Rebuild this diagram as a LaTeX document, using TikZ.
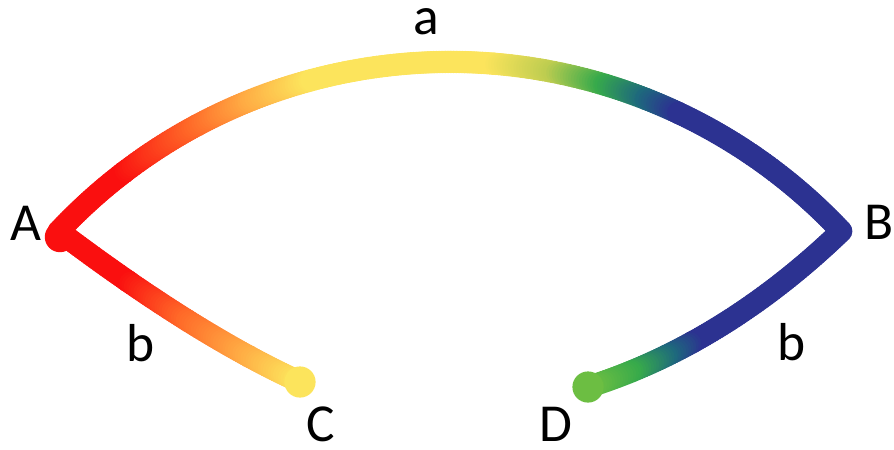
\documentclass[tikz,border=0pt]{standalone}
\usepackage{fontspec}
\setmainfont{Carlito}
\usetikzlibrary{decorations.markings}

\definecolor{cRed}{RGB}{250,15,15}
\definecolor{cOrange}{RGB}{255,105,40}
\definecolor{cLtOrange}{RGB}{255,172,68}
\definecolor{cYellow}{RGB}{252,228,92}
\definecolor{cYelGreen}{RGB}{190,205,80}
\definecolor{cGreen}{RGB}{55,170,75}
\definecolor{cTeal}{RGB}{30,105,125}
\definecolor{cNavy}{RGB}{44,50,145}
\definecolor{cLtGreen}{RGB}{108,190,66}

% one blob of the thick colour stroke, mixed between \ca and \cb
\newcommand\gradblob{%
  \pgfmathsetmacro\pct{max(0,min(100,100*((\pgfkeysvalueof{/pgf/decoration/mark info/distance from start})/(\pgfdecoratedpathlength)-\fa)/(\fb-\fa)))}%
  \fill[\cb!\pct!\ca] (0,0) circle (0.28cm);}

\tikzset{
  lbl/.style={inner sep=0pt, font=\fontsize{38}{40}\selectfont},
  grad/.style={decorate, decoration={markings,
      mark=between positions #1 step 2pt with {\gradblob}}}
}

\begin{document}
\begin{tikzpicture}[x=0.025cm, y=-0.025cm]
    \useasboundingbox (0,0) rectangle (894,449);
    % end points
    \coordinate (A) at (58.8,231.2);
    \coordinate (B) at (841.2,231.2);
    \coordinate (C) at (300,382);
    \coordinate (D) at (588,387);
    % upper arc a
    \foreach \fa/\fb/\ca/\cb in {0/0.1/cRed/cRed, 0.1/0.2/cRed/cOrange,
        0.2/0.27/cOrange/cLtOrange, 0.27/0.34/cLtOrange/cYellow,
        0.34/0.55/cYellow/cYellow, 0.55/0.62/cYellow/cYelGreen,
        0.62/0.68/cYelGreen/cGreen, 0.68/0.73/cGreen/cTeal,
        0.73/0.77/cTeal/cNavy, 0.77/1/cNavy/cNavy}
        \path[grad={\fa and \fb}] (A) arc[start angle=-136.8, end angle=-43.2, radius=536.7];
    % lower left b
    \foreach \fa/\fb/\ca/\cb in {0/0.3/cRed/cRed, 0.3/0.55/cRed/cOrange,
        0.55/0.8/cOrange/cLtOrange, 0.8/1/cLtOrange/cYellow}
        \path[grad={\fa and \fb}] (A) .. controls (150,300) and (230,350) .. (C);
    % lower right b
    \foreach \fa/\fb/\ca/\cb in {0/0.62/cNavy/cNavy, 0.62/0.72/cNavy/cTeal,
        0.72/0.85/cTeal/cGreen, 0.85/1/cGreen/cLtGreen}
        \path[grad={\fa and \fb}] (B) .. controls (775,295) and (690,355) .. (D);
    % end dots
    \fill[cRed] (60,237) circle (0.38cm);
    \fill[cYellow] (C) circle (0.39cm);
    \fill[cLtGreen] (D) circle (0.39cm);
    % labels
    \node[lbl] (lA) at (26,223) {A};
    \node[lbl] (lB) at (879,222) {B};
    \node[lbl] (lC) at (321,424) {C};
    \node[lbl] (lD) at (556,424) {D};
    \node[lbl] (la) at (426,22) {a};
    \node[lbl] (lb1) at (141,343) {b};
    \node[lbl] (lb2) at (792,342) {b};
\end{tikzpicture}
\end{document}
